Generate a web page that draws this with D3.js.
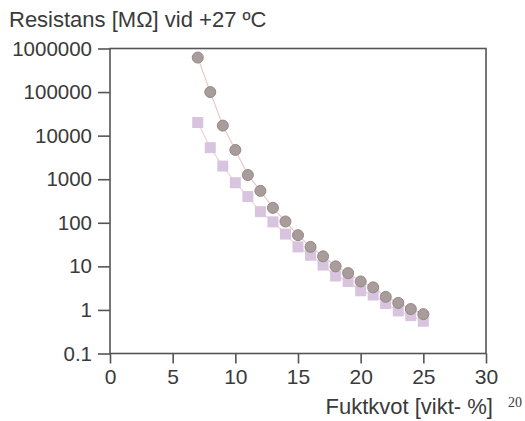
<!DOCTYPE html>
<html>
<head>
<meta charset="utf-8">
<script src="https://cdn.jsdelivr.net/npm/d3@7"></script>
<style>
body { margin: 0; background: #fff; }
text { font-family: "Liberation Sans", Arial, sans-serif; fill: #3a3a3a; }
</style>
</head>
<body>
<svg></svg>
<script>
// moisture content (weight %)
var fuktkvot = [7, 8, 9, 10, 11, 12, 13, 14, 15, 16, 17, 18, 19, 20, 21, 22, 23, 24, 25];
// resistance [MOhm], circles
var circleVals = [620000, 100000, 17000, 4700, 1250, 540, 220, 107, 52, 28, 17, 10, 7, 4.5, 3.3, 2.0, 1.45, 1.05, 0.8];
// resistance [MOhm], squares
var squareVals = [20000, 5300, 2000, 830, 400, 180, 105, 55, 28, 18, 10.7, 6, 4.5, 2.75, 2.2, 1.4, 0.95, 0.74, 0.55];
var yTicks = [0.1, 1, 10, 100, 1000, 10000, 100000, 1000000];
var xTicks = [0, 5, 10, 15, 20, 25, 30];

var screen = { width: 525, height: 421 };
var margins = { top: 48.5, bottom: 67.5, left: 110, right: 39 };
var width = screen.width - margins.left - margins.right;
var height = screen.height - margins.top - margins.bottom;

var svg = d3.select('svg')
  .attr('width', screen.width)
  .attr('height', screen.height);

var xScale = d3.scaleLinear().domain([0, 30]).range([0, width]);
var yScale = d3.scaleLog().domain([0.1, 1000000]).range([height, 0]);

var plot = svg.append('g')
  .attr('transform', 'translate(' + margins.left + ',' + margins.top + ')');

// frame
plot.append('rect')
  .attr('width', width).attr('height', height)
  .attr('fill', 'none').attr('stroke', '#555').attr('stroke-width', 1.6);

var yAxis = d3.axisLeft(yScale)
  .tickValues(yTicks)
  .tickFormat(function(d){ return d3.format('~f')(d); })
  .tickSize(12).tickPadding(6);
plot.append('g').call(yAxis)
  .call(function(g){
    g.select('.domain').remove();
    g.selectAll('line').attr('stroke', '#555').attr('stroke-width', 1.6);
    g.selectAll('text').style('font-size', '20.5px').attr('fill', '#3a3a3a');
  });

var xAxis = d3.axisBottom(xScale)
  .tickValues(xTicks)
  .tickSize(10).tickPadding(6);
plot.append('g')
  .attr('transform', 'translate(0,' + height + ')')
  .call(xAxis)
  .call(function(g){
    g.select('.domain').remove();
    g.selectAll('line').attr('stroke', '#555').attr('stroke-width', 1.6);
    g.selectAll('text').style('font-size', '21px').attr('fill', '#3a3a3a');
  });

var circleData = fuktkvot.map(function(d, i){ return { x: d, v: circleVals[i] }; });
var squareData = fuktkvot.map(function(d, i){ return { x: d, v: squareVals[i] }; });

var line = d3.line()
  .x(function(d){ return xScale(d.x); })
  .y(function(d){ return yScale(d.v); });

plot.append('path').datum(squareData)
  .attr('d', line).attr('fill', 'none')
  .attr('stroke', '#efd3d6').attr('stroke-width', 1.2);
plot.append('path').datum(circleData)
  .attr('d', line).attr('fill', 'none')
  .attr('stroke', '#e8c9cc').attr('stroke-width', 1.2);

var sq = 11;
plot.selectAll('rect.sq').data(squareData).enter().append('rect')
  .attr('class', 'sq')
  .attr('x', function(d){ return xScale(d.x) - sq / 2; })
  .attr('y', function(d){ return yScale(d.v) - sq / 2; })
  .attr('width', sq).attr('height', sq)
  .attr('fill', '#d8c4df');

plot.selectAll('circle.c').data(circleData).enter().append('circle')
  .attr('class', 'c')
  .attr('cx', function(d){ return xScale(d.x); })
  .attr('cy', function(d){ return yScale(d.v); })
  .attr('r', 5.5)
  .attr('fill', '#a99d9b')
  .attr('stroke', '#948886').attr('stroke-width', 1);

// titles
svg.append('text')
  .attr('x', 9).attr('y', 27)
  .style('font-size', '22px')
  .text('Resistans [M\u03A9] vid +27 \u00BAC');

svg.append('text')
  .attr('x', 493).attr('y', 414)
  .attr('text-anchor', 'end')
  .style('font-size', '22px')
  .text('Fuktkvot [vikt- %]');

svg.append('text')
  .attr('x', 508).attr('y', 407)
  .style('font-family', '"Liberation Serif", "Times New Roman", serif')
  .style('font-size', '14px')
  .attr('fill', '#000')
  .text('20');
</script>
</body>
</html>
